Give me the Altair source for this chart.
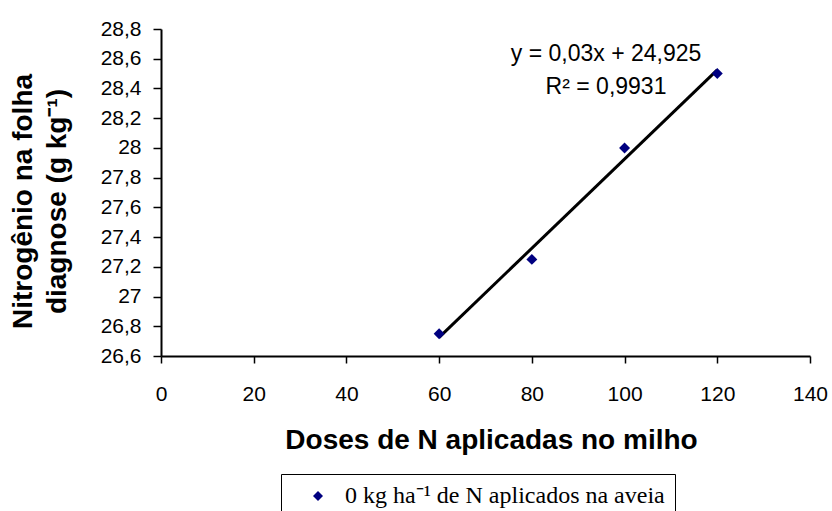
import altair as alt
import numpy as np
import pandas as pd

# Nitrogen in the diagnostic leaf vs. N dose applied to maize
doses = [60, 80, 100, 120]
n_folha = [26.75, 27.25, 28.0, 28.5]
serie = "0 kg ha\u207b\u00b9 de N aplicados na aveia"

x_ticks = [0, 20, 40, 60, 80, 100, 120, 140]
y_ticks = [26.6, 26.8, 27.0, 27.2, 27.4, 27.6, 27.8, 28.0, 28.2, 28.4, 28.6, 28.8]

# Linear fit, used for the equation label
slope, intercept = np.polyfit(doses, n_folha, 1)
pred = np.polyval([slope, intercept], doses)
ss_res = float(np.sum((np.array(n_folha) - pred) ** 2))
ss_tot = float(np.sum((np.array(n_folha) - np.mean(n_folha)) ** 2))
r2 = 1 - ss_res / ss_tot

eq_line = f"y = {slope:.2f}x + {intercept:.3f}".replace(".", ",")
r2_line = f"R\u00b2 = {r2:.4f}".replace(".", ",")

df = pd.DataFrame({"dose": doses, "n": n_folha, "serie": [serie] * len(doses)})
labels = pd.DataFrame({"dose": [96, 96], "n": [28.635, 28.41], "txt": [eq_line, r2_line]})

x_scale = alt.Scale(domain=[0, 140], nice=False, zero=False)
y_scale = alt.Scale(domain=[26.6, 28.8], nice=False, zero=False)

x_axis = alt.Axis(
    values=x_ticks, title="Doses de N aplicadas no milho", grid=False,
    labelFont="Liberation Sans", labelFontSize=21, labelColor="black", labelPadding=20,
    labelOverlap=False, labelFlush=False,
    tickSize=7, tickColor="black", tickWidth=1.5, domainColor="black", domainWidth=2,
    titleFont="Liberation Sans", titleFontSize=28, titleFontWeight="bold", titleColor="black",
    titleX=330, titleY=84, titleBaseline="middle", titleAnchor="middle",
)
y_axis = alt.Axis(
    values=y_ticks, title=["Nitrog\u00eanio na folha", "diagnose (g kg\u207b\u00b9)"], grid=False,
    labelExpr="replace(toString(round(datum.value * 10) / 10), '.', ',')",
    labelFont="Liberation Sans", labelFontSize=21, labelColor="black", labelPadding=12,
    labelOverlap=False, labelFlush=False,
    tickSize=8, tickColor="black", tickWidth=1.5, domainColor="black", domainWidth=2,
    titleFont="Liberation Sans", titleFontSize=28, titleFontWeight="bold", titleColor="black",
    titleAngle=270, titleX=-138, titleY=172, titleBaseline="middle", titleAlign="center",
    titleLineHeight=34,
)

X = alt.X("dose:Q", scale=x_scale, axis=x_axis)
Y = alt.Y("n:Q", scale=y_scale, axis=y_axis)

base = alt.Chart(df)

points = base.mark_point(shape="diamond", filled=True, size=120, opacity=1).encode(
    x=X,
    y=Y,
    color=alt.Color(
        "serie:N",
        scale=alt.Scale(range=["#000080"]),
        legend=alt.Legend(
            title=None, orient="none", legendX=120, legendY=445,
            strokeColor="black", padding=10, symbolType="diamond", symbolSize=100,
            symbolOffset=15, labelOffset=15, labelFont="Liberation Serif",
            labelFontSize=24, labelColor="black", labelLimit=600,
        ),
    ),
)

trend = base.transform_regression("dose", "n").mark_line(color="black", strokeWidth=3).encode(
    x=X, y=Y,
)

eq = alt.Chart(labels).mark_text(
    font="Liberation Sans", fontSize=23, color="black", align="center", baseline="middle"
).encode(
    x=X, y=Y,
    text="txt:N",
)

chart = (
    alt.layer(trend, points, eq)
    .properties(
        width=649, height=327,
        autosize=alt.AutoSizeParams(type="none"),
        padding={"left": 161, "top": 29, "right": 22, "bottom": 155},
        background="white",
    )
    .configure_view(stroke=None)
)

chart.save("out.html", embed_options={"renderer": "svg", "actions": False})
